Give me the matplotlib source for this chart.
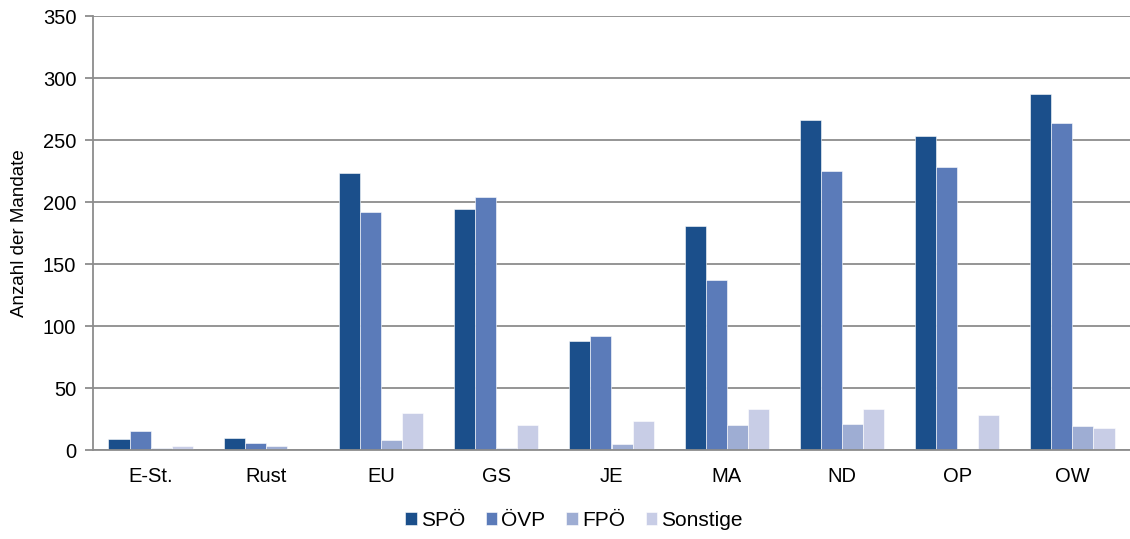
import numpy as np
import matplotlib
matplotlib.use("Agg")
import matplotlib.pyplot as plt

plt.rcParams['font.family'] = ['Liberation Sans', 'DejaVu Sans']

categories = ["E-St.", "Rust", "EU", "GS", "JE", "MA", "ND", "OP", "OW"]
spoe = [9, 10, 223, 194, 88, 181, 266, 253, 287]
oevp = [15, 6, 192, 204, 92, 137, 225, 228, 264]
fpoe = [2, 3, 8, 2, 5, 20, 21, 1, 19]
sonstige = [3, 0, 30, 20, 23, 33, 33, 28, 18]

series = [("SPÖ", spoe, "#1b4f8b"),
          ("ÖVP", oevp, "#5b7bb9"),
          ("FPÖ", fpoe, "#9eadd3"),
          ("Sonstige", sonstige, "#c8cde6")]

fig = plt.figure(figsize=(11.3, 5.39), dpi=100)
ax = fig.add_axes([93 / 1130, 1 - 450 / 539, 1037 / 1130, 434 / 539])

x = np.arange(len(categories))
w = 0.183
for i, (name, vals, col) in enumerate(series):
    ax.bar(x + (i - 1.5) * w, vals, w, color=col, label=name,
           edgecolor="white", linewidth=0.4, zorder=3)

ax.set_xlim(-0.5, len(categories) - 0.5)
ax.set_ylim(0, 350)
ax.set_yticks(range(0, 351, 50))
ax.set_xticks(x)
ax.set_xticklabels(categories)
ax.yaxis.grid(True, color="#8c8c8c", linewidth=1.3, zorder=0)
ax.set_axisbelow(True)
for s in ["top", "right"]:
    ax.spines[s].set_visible(False)
ax.spines["left"].set_color("#8c8c8c")
ax.spines["left"].set_linewidth(1.3)
ax.spines["bottom"].set_color("#8c8c8c")
ax.spines["bottom"].set_linewidth(1.3)
ax.spines["bottom"].set_zorder(4)
ax.tick_params(axis="y", length=6, width=1.3, color="#8c8c8c",
               labelsize=14.5, pad=6)
ax.tick_params(axis="x", length=0, labelsize=14.5, pad=12)
ax.set_ylabel("Anzahl der Mandate", fontsize=13.5, labelpad=11)

fig.legend(loc="lower center", bbox_to_anchor=(0.508, -0.018), ncol=4,
           frameon=False, fontsize=15, handlelength=0.55, handleheight=0.55,
           handletextpad=0.2, columnspacing=1.0)

fig.savefig("out.png", dpi=100)
